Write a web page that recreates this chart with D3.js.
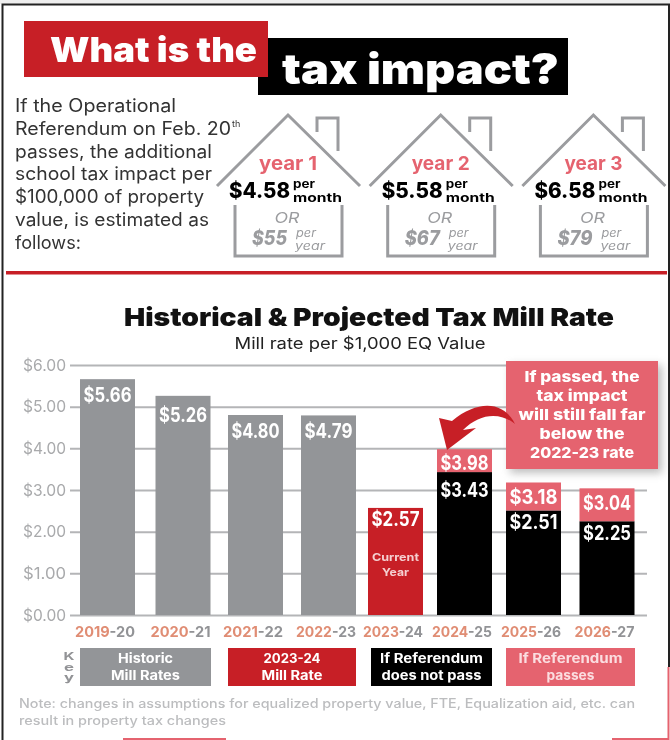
<!DOCTYPE html>
<html>
<head>
<meta charset="utf-8">
<script src="https://cdn.jsdelivr.net/npm/d3@7"></script>
<style>
    html, body { margin: 0; padding: 0; background: #fff; }
    svg { display: block; filter: blur(0.45px); }
    text { font-family: Inter, "Open Sans", sans-serif; }
</style>
</head>
<body>
<svg></svg>
<script>
// Chart values
years = ['2019-20', '2020-21', '2021-22', '2022-23', '2023-24', '2024-25', '2025-26', '2026-27']
historic_years = ['2019-20', '2020-21', '2021-22', '2022-23']
historic_rates = [5.66, 5.26, 4.80, 4.79]
current_years = ['2023-24']
current_rates = [2.57]
projected_years = ['2024-25', '2025-26', '2026-27']
no_pass_rates = [3.43, 2.51, 2.25]
pass_rates = [3.98, 3.18, 3.04]
y_ticks = [0, 1, 2, 3, 4, 5, 6]

// House panels
house_years = ['year 1', 'year 2', 'year 3']
house_monthly = ['$4.58', '$5.58', '$6.58']
house_yearly = ['$55', '$67', '$79']

// Text blocks
intro_lines = ['If the Operational', 'Referendum on Feb. 20', 'passes, the additional', 'school tax impact per',
    '$100,000 of property', 'value, is estimated as', 'follows:']
callout_lines = ['If passed, the', 'tax impact', 'will still fall far', 'below the', '2022-23 rate']
key_labels = [['Historic', 'Mill Rates'], ['2023-24', 'Mill Rate'], ['If Referendum', 'does not pass'], ['If Referendum', 'passes']]
note_lines = ['Note: changes in assumptions for equalized property value, FTE, Equalization aid, etc. can',
    'result in property tax changes']

var RED = '#c71f26', PINK = '#e5636f', GREY = '#939598', HOUSE_GREY = '#9b9c9f'

var svg = d3.select('svg').attr('width', 670).attr('height', 740)

drawFrame()
drawTitle()
drawIntro()
house_years.forEach(drawHouse)
drawChart()

function addText(parent, str, x, y, size, weight, fill, anchor, fit) {
    var t = parent.append('text')
        .attr('x', x)
        .attr('y', y)
        .attr('font-size', size)
        .attr('font-weight', weight)
        .attr('fill', fill)
        .attr('text-anchor', anchor || 'start')
        .text(str)
    // Reference face is wider than anything installed, stretch to the measured width
    if (fit) {
        t.attr('textLength', fit).attr('lengthAdjust', 'spacingAndGlyphs')
    }
    return t
}

function drawFrame() {
    svg.append('rect').attr('width', 670).attr('height', 4).attr('fill', '#eee')
    svg.append('path')
        .attr('d', 'M2.5,740V4.5H669V667')
        .attr('fill', 'none')
        .attr('stroke', '#222')
        .attr('stroke-width', 2)
    // Scraps of the next page showing along the right and bottom edges
    svg.append('path')
        .attr('d', 'M668.5,667V739H612M226,739H123')
        .attr('fill', 'none')
        .attr('stroke', PINK)
        .attr('stroke-width', 2)
    svg.append('rect')
        .attr('x', 6).attr('y', 271)
        .attr('width', 661).attr('height', 3.5)
        .attr('fill', RED)
}

function drawTitle() {
    svg.append('rect').attr('x', 258).attr('y', 38).attr('width', 310).attr('height', 57).attr('fill', '#000')
    svg.append('rect').attr('x', 24).attr('y', 21).attr('width', 244).attr('height', 56).attr('fill', RED)
    addText(svg, 'What is the', 50, 61.5, 34, 900, '#fff', 'start', 207)
    addText(svg, 'tax impact?', 282, 83.5, 42, 900, '#fff', 'start', 277)
}

function drawIntro() {
    intro_lines.forEach(function(line, idx) {
        var fits = [161, 216, 197, 197, 189, 194, 66]
        addText(svg, line, 15, 112 + idx * 22.8, 18, 400, '#333', 'start', fits[idx])
    })
    addText(svg, 'th', 232, 127, 9, 400, '#333')
}

function drawHouse(year, idx) {
    var g = svg.append('g').attr('transform', 'translate(' + [idx * 152.7, 0] + ')')
    var stroke = function(d) {
        g.append('path')
            .attr('d', d)
            .attr('fill', 'none')
            .attr('stroke', HOUSE_GREY)
            .attr('stroke-width', 3)
    }
    stroke('M217,186L288,115L360,186')
    stroke('M317,132V118H338V151')
    stroke('M235,205V256H342V205')

    addText(g, year, 288, 170, 19, 700, PINK, 'middle', 58)
    addText(g, house_monthly[idx], 229, 198, 21, 800, '#000', 'start', 61)
    addText(g, 'per', 293, 188, 11.5, 700, '#000', 'start', 22)
    addText(g, 'month', 293, 202, 12, 700, '#000', 'start', 49)
    addText(g, 'OR', 287, 222.5, 15, 400, HOUSE_GREY, 'middle', 25).attr('font-style', 'italic')
    addText(g, house_yearly[idx], 252, 245, 20, 800, HOUSE_GREY, 'start', 35).attr('font-style', 'italic')
    addText(g, 'per', 296, 236.5, 11, 400, HOUSE_GREY, 'start', 20).attr('font-style', 'italic')
    addText(g, 'year', 295, 250, 11, 400, HOUSE_GREY, 'start', 30).attr('font-style', 'italic')
}

function drawChart() {
    addText(svg, 'Historical & Projected Tax Mill Rate', 369, 326, 25, 900, '#111', 'middle', 490)
    addText(svg, 'Mill rate per $1,000 EQ Value', 360, 349, 16, 400, '#222', 'middle', 251)

    // Bars are not evenly spaced in the reference, hence an ordinal range of centres
    var bar_width = 55
    var x = d3.scaleOrdinal()
        .domain(years)
        .range([107.5, 183, 255.5, 328.5, 395.5, 464.5, 533.5, 607])
    var y = d3.scaleLinear().domain([0, 6]).range([615, 365])

    // Y axis with gridlines
    svg.append('g')
        .attr('transform', 'translate(70,0)')
        .call(d3.axisLeft(y)
            .tickValues(y_ticks)
            .tickFormat(d3.format('$.2f'))
            .tickSize(-577)
            .tickPadding(4))
        .call(function(g) { g.select('.domain').remove() })
        .call(function(g) {
            g.selectAll('.tick line').attr('stroke', '#b4b5b7').attr('stroke-width', 2)
            g.selectAll('.tick text')
                .attr('fill', '#a9aaac')
                .attr('font-size', 16)
                .attr('textLength', 43)
                .attr('lengthAdjust', 'spacingAndGlyphs')
        })

    // X axis, first year of each label in salmon
    svg.append('g')
        .attr('transform', 'translate(-3,615)')
        .call(d3.axisBottom(x).tickSize(0).tickPadding(10))
        .call(function(g) { g.select('.domain').remove() })
        .call(function(g) {
            g.selectAll('.tick text').each(function(d) {
                var parts = d.split('-')
                var t = d3.select(this).text(null)
                    .attr('font-size', 15)
                    .attr('font-weight', 700)
                    .attr('dy', '0.8em')
                    .attr('textLength', 60)
                    .attr('lengthAdjust', 'spacingAndGlyphs')
                t.append('tspan').attr('fill', '#e08d74').text(parts[0])
                t.append('tspan').attr('fill', '#929396').text('-' + parts[1])
            })
        })

    // Bars
    var bars = function(cats, lows, highs, fill) {
        svg.append('g').selectAll('rect')
            .data(cats)
            .join('rect')
            .attr('x', function(d) { return x(d) - bar_width / 2 })
            .attr('y', function(d, i) { return y(highs[i]) })
            .attr('width', bar_width)
            .attr('height', function(d, i) { return y(lows ? lows[i] : 0) - y(highs[i]) })
            .attr('fill', fill)
    }
    bars(historic_years, null, historic_rates, GREY)
    bars(current_years, null, current_rates, RED)
    bars(projected_years, null, no_pass_rates, '#000')
    bars(projected_years, no_pass_rates, pass_rates, PINK)

    // Value labels, each sits a little differently below its bar top
    var labels = function(cats, vals, offsets) {
        svg.append('g').selectAll('text')
            .data(cats)
            .join('text')
            .attr('x', function(d) { return x(d) })
            .attr('y', function(d, i) { return y(vals[i]) + offsets[i] })
            .attr('text-anchor', 'middle')
            .attr('font-size', 20)
            .attr('font-weight', 700)
            .attr('fill', '#fff')
            .attr('textLength', 48)
            .attr('lengthAdjust', 'spacingAndGlyphs')
            .text(function(d, i) { return d3.format('$.2f')(vals[i]) })
    }
    labels(historic_years, historic_rates, [23, 26, 23, 23])
    labels(current_years, current_rates, [18])
    labels(projected_years, no_pass_rates, [25, 18.5, 19])
    labels(projected_years, pass_rates, [21, 21.5, 22])

    addText(svg, 'Current', x('2023-24'), 561, 11, 700, '#f5cfd0', 'middle', 47)
    addText(svg, 'Year', x('2023-24'), 576, 11, 700, '#f5cfd0', 'middle', 27)

    drawCallout()
    drawKey()

    note_lines.forEach(function(line, idx) {
        addText(svg, line, 19, 708 + idx * 17, 12.5, 500, '#bcbdbf', 'start', idx ? 207 : 616)
    })
}

function drawCallout() {
    var defs = svg.append('defs')
    defs.append('filter').attr('id', 'soft').attr('x', '-20%').attr('y', '-20%').attr('width', '140%').attr('height', '140%')
        .append('feGaussianBlur').attr('stdDeviation', 4)
    svg.append('rect').attr('x', 510).attr('y', 365).attr('width', 152).attr('height', 108)
        .attr('fill', '#888').attr('opacity', 0.55).attr('filter', 'url(#soft)')
    svg.append('rect').attr('x', 506).attr('y', 361).attr('width', 152).attr('height', 108).attr('fill', PINK)
    callout_lines.forEach(function(line, idx) {
        var fits = [115, 91, 127, 85, 104]
        addText(svg, line, 582, 382 + idx * 19, 15, 800, '#fff', 'middle', fits[idx])
    })
    // Curved arrow from the callout to the 2024-25 bar
    svg.append('path')
        .attr('d', 'M515,424C505,403 480,398 452,421L439,418L447,450L476,428L463,430C480,413 500,412 515,424Z')
        .attr('fill', RED)
}

function drawKey() {
    var boxes = [[80, 131, GREY, '#fff'], [228, 128, RED, '#fff'], [371, 121, '#000', '#fff'], [506, 129, PINK, '#fbdde0']]
    var fits = [[55, 69], [57, 61], [103, 100], [104, 48]]
    boxes.forEach(function(b, idx) {
        svg.append('rect').attr('x', b[0]).attr('y', 648).attr('width', b[1]).attr('height', 38).attr('fill', b[2])
        addText(svg, key_labels[idx][0], b[0] + b[1] / 2, 663, 13, 700, b[3], 'middle', fits[idx][0])
        addText(svg, key_labels[idx][1], b[0] + b[1] / 2, 680, 13, 700, b[3], 'middle', fits[idx][1])
    })
    ;['K', 'e', 'y'].forEach(function(c, idx) {
        addText(svg, c, 69, [660, 671, 681][idx], 11, 700, '#929396', 'middle', [11, 10, 10][idx])
    })
}
</script>
</body>
</html>
